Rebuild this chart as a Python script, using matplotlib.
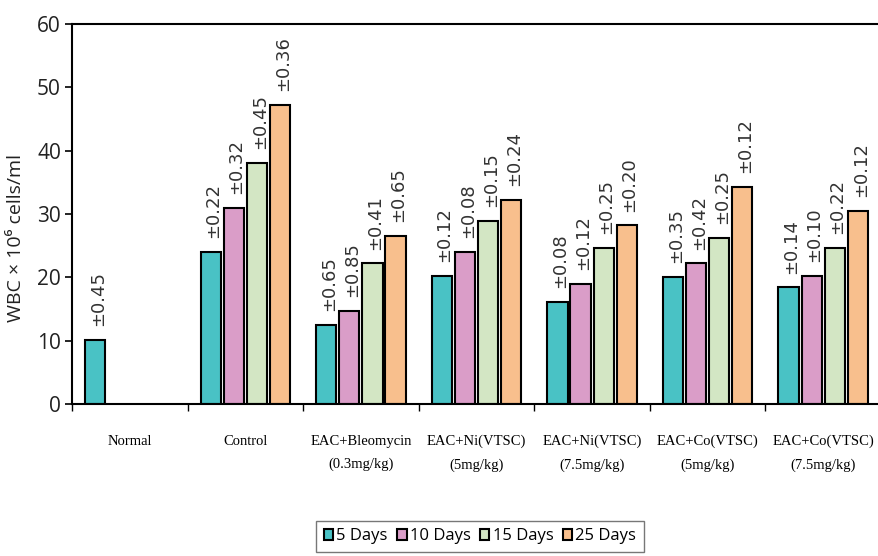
import matplotlib.pyplot as plt
import numpy as np

# Data
groups = ["Normal", "Control", "EAC+Bleomycin\n(0.3mg/kg)", "EAC+Ni(VTSC)\n(5mg/kg)",
          "EAC+Ni(VTSC)\n(7.5mg/kg)", "EAC+Co(VTSC)\n(5mg/kg)", "EAC+Co(VTSC)\n(7.5mg/kg)"]
series_names = ["5 Days", "10 Days", "15 Days", "25 Days"]

days5 = [10.1, 24.0, 12.5, 20.2, 16.1, 20.1, 18.4]
days10 = [None, 31.0, 14.7, 24.0, 19.0, 22.2, 20.2]
days15 = [None, 38.0, 22.2, 28.9, 24.6, 26.2, 24.6]
days25 = [None, 47.2, 26.5, 32.2, 28.2, 34.3, 30.5]

err5 = ["±0.45", "±0.22", "±0.65", "±0.12", "±0.08", "±0.35", "±0.14"]
err10 = [None, "±0.32", "±0.85", "±0.08", "±0.12", "±0.42", "±0.10"]
err15 = [None, "±0.45", "±0.41", "±0.15", "±0.25", "±0.25", "±0.22"]
err25 = [None, "±0.36", "±0.65", "±0.24", "±0.20", "±0.12", "±0.12"]

colors = ["#49C2C5", "#DA9DC8", "#D3E6C4", "#F8BF8D"]

fig = plt.figure(figsize=(8.79, 5.56), dpi=100)
ax = fig.add_axes([72 / 879, 1 - 404 / 556, 809 / 879, 380 / 556])

all_vals = [days5, days10, days15, days25]
all_errs = [err5, err10, err15, err25]
bar_w = 0.175
step = 0.2
handles = []
for k, (vals, errs) in enumerate(zip(all_vals, all_errs)):
    xs = [i + 0.5 + (k - 1.5) * step for i, v in enumerate(vals) if v is not None]
    ys = [v for v in vals if v is not None]
    labs = [e for e in errs if e is not None]
    bars = ax.bar(xs, ys, width=bar_w, color=colors[k], edgecolor="black",
                  linewidth=1.5, label=series_names[k])
    handles.append(bars)
    for x, y, t in zip(xs, ys, labs):
        ax.annotate(t, (x, y), xytext=(2, 10), textcoords="offset points",
                    rotation=90, ha="center", va="bottom", fontsize=13,
                    color="#333333", family="DejaVu Sans")

ax.set_xlim(0, 7)
ax.set_ylim(0, 60)
ax.set_yticks(range(0, 61, 10))
ax.tick_params(axis="y", direction="out", length=5, width=1.2, labelsize=15,
               labelcolor="#222222", pad=3)
for lab in ax.get_yticklabels():
    lab.set_family("Open Sans")

# group dividers as major ticks, labels on minor ticks
ax.set_xticks(np.arange(0, 8))
ax.set_xticklabels([])
ax.tick_params(axis="x", which="major", direction="out", length=5, width=1)
ax.set_xticks(np.arange(7) + 0.5, minor=True)
ax.set_xticklabels(groups, minor=True, family="Liberation Serif", fontsize=10.5,
                   linespacing=2.0, va="top")
ax.tick_params(axis="x", which="minor", length=0, pad=22)

for side in ["left", "bottom", "top", "right"]:
    ax.spines[side].set_linewidth(1.5)
    ax.spines[side].set_color("black")

ax.set_ylabel("WBC × 10⁶ cells/ml", fontsize=14, family=["Open Sans", "DejaVu Sans"],
              color="#222222")
ax.yaxis.set_label_coords(-0.058, 0.437)

leg = fig.legend(handles=handles, loc="upper center", bbox_to_anchor=(480 / 879, 1 - 521 / 556),
                 ncol=4, prop={"family": "Open Sans", "size": 12}, frameon=True,
                 fancybox=False, edgecolor="#555555", handlelength=0.57, handleheight=0.66,
                 handletextpad=0.2, columnspacing=0.55, borderpad=0.45, borderaxespad=0)
leg.get_frame().set_linewidth(1.0)

fig.savefig("out.png", dpi=100)
